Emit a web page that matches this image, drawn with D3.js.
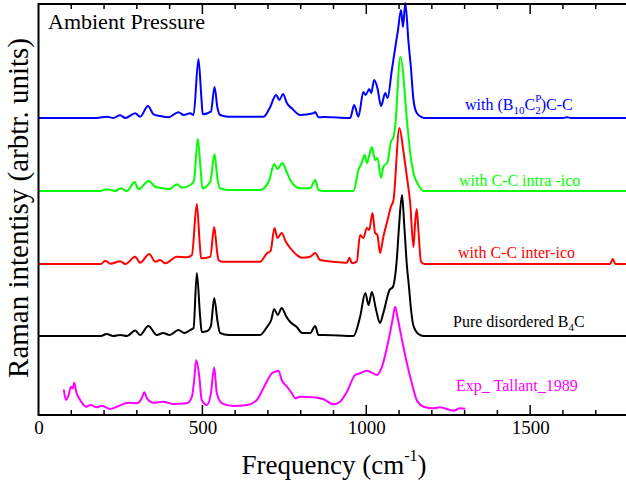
<!DOCTYPE html>
<html><head><meta charset="utf-8">
<script src="https://cdn.jsdelivr.net/npm/d3@7"></script>
<style>
html,body{margin:0;padding:0;background:#fff;}
svg{display:block;}
svg text{font-family:"Liberation Serif","DejaVu Serif","Times New Roman",Times,serif;}
</style></head>
<body><svg id="chart" width="626" height="485"></svg>
<script>
// ---------- data (frequency in cm^-1, intensity in arbitrary units above each trace's baseline) ----------
const blueFreq = [0,178,209,228,249,265,295,310,334,351,371,396,427,443,463,473,488,497,501,526,537,546,554,580,687,705,725,735,746,758,773,798,839,844,854,870,951,963,976,991,998,1009,1015,1024,1034,1045,1058,1065,1078,1091,1096,1106,1112,1119,1129,1136,1144,1154,1170,1180,1600,1612,1625,1800];
const blueInt  = [0,0,1.3,0,2.7,0,4.7,1.3,12,3.7,2,0.7,5.7,3,4.7,3,59,20,3.7,6.3,31,10,3,1.3,1.3,9.7,23,18,24,14.7,9.7,3,4.7,6,0.7,1,0,13,1.3,26,23,29,25,38,30,12,25,20,48,76,86,108,91,115,75,51,18,5,0.7,0,0,0.7,0,0];

const greenFreq = [0,188,209,234,251,270,293,305,336,356,381,400,422,437,463,474,486,495,500,524,537,546,554,580,676,703,719,729,744,756,768,798,829,844,854,870,961,976,986,995,1002,1007,1017,1027,1034,1045,1052,1065,1075,1083,1088,1104,1126,1134,1144,1159,1175,1800];
const greenInt  = [0,0,1.7,0,2.7,0,9,1.7,10,4.3,2.7,2,6.7,3.3,6,10,52,20,2.7,9.3,37,12,2.7,1,1,10,27,22,28,20,11,2.7,2.7,11,1,0,0,21,28,36,28,33,44,31,33,13,24,29,49,54,64,134,64,38,18,6,0,0];

const redFreq = [0,190,204,220,249,265,295,310,338,356,371,387,422,453,468,483,492,496,524,536,545,549,560,676,697,708,720,729,742,755,768,788,803,829,844,859,900,941,949,956,971,981,991,1002,1009,1019,1027,1034,1042,1052,1065,1075,1083,1101,1114,1124,1134,1144,1149,1154,1159,1167,1177,1744,1752,1760,1800];
const redInt  = [0,0,3.3,0.3,2.7,0,7.3,1.3,10,2.3,4,0.7,7.3,6.7,9,60,20,5.7,7.3,37,12,4,2.3,2.3,10.7,13,36,26,31,22,16,9,6.3,7.3,11,4,2.3,1.3,6.3,0.7,2.3,29,26,36,34,51,31,29,11,27,44,57,64,136,111,87,61,17,41,55,34,2.3,0,0,5,0,0];

const blackFreq = [0,190,208,228,249,270,295,310,335,361,380,400,427,445,463,473,483,493,498,515,526,536,546,554,580,676,697,710,719,730,742,755,768,788,804,829,844,854,870,961,981,997,1007,1017,1030,1042,1052,1071,1081,1093,1100,1109,1116,1124,1130,1137,1144,1159,1175,1800];
const blackInt  = [0,0,2,0,1,0,5.5,1,10,1,3,1,6,3,6,8,63,20,4,5,10,38,15,3,1,1,9,16,27,21,28,20,14,9,3,3,10,1,1,0,19,43,31,44,26,13,23,46,49,76,110,141,110,70,50,25,10,2,0,0];

const expFreq = [77,84,92,99,105,109,115,127,146,158,178,193,219,239,275,300,315,323,331,351,381,412,453,468,475,481,490,498,514,526,536,544,560,595,636,666,686,702,712,722,732,742,758,773,783,798,839,870,900,920,941,966,981,1002,1017,1032,1048,1068,1081,1088,1095,1109,1124,1139,1154,1175,1205,1225,1266,1286,1302];
const expInt  = [25.7,15,20,28.3,26.7,32.3,23.3,15,8.3,10,7.7,9.3,6,8.3,12.3,11.7,16.7,22.7,16.7,12.3,13.3,11,11.7,18.3,35,55,40,15,10,21.7,47.7,21.7,11.7,9,10,15,26.7,36.7,41.7,43.3,44.3,35,28.3,21.7,16.7,18.3,17.7,15.7,10.7,13.3,23.3,40,41.7,44.3,42.3,40,48.3,75,96.7,108.3,98.3,75,51.7,31.7,15,8.3,6.7,7.7,4.3,6.7,6.3];

const seriesNames  = ["with (B10CP2)C-C","with C-C intra -ico","with C-C inter-ico","Pure disordered B4C","Exp_ Tallant_1989"];
const seriesOffset = [297, 224, 151, 79, 0];
const xTickValues  = [0, 500, 1000, 1500];
const xDomain = [0, 1800];
const yDomain = [0, 411];

// ---------- layout ----------
const svg = d3.select("#chart");
const mLeft = 38.5, mRight = 628.5, mTop = 4, mBottom = 415;
const x = d3.scaleLinear().domain(xDomain).range([mLeft, mRight]);
const y = d3.scaleLinear().domain(yDomain).range([mBottom, mTop]);

const series = [
  {f: blueFreq,  v: blueInt,  color: "#0000ff"},
  {f: greenFreq, v: greenInt, color: "#00ff00"},
  {f: redFreq,   v: redInt,   color: "#ff0000"},
  {f: blackFreq, v: blackInt, color: "#000000"},
  {f: expFreq,   v: expInt,   color: "#ff00ff"}
];

const line = d3.line().x(d => x(d[0])).y(d => y(d[1])).curve(d3.curveMonotoneX);
series.forEach((s, i) => {
  const pts = s.f.map((f, j) => [f, s.v[j] + seriesOffset[i]]);
  svg.append("path").datum(pts)
    .attr("d", line).attr("fill", "none")
    .attr("stroke", s.color).attr("stroke-width", 2)
    .attr("stroke-linejoin", "round");
});

// ---------- axes ----------
const minorTicks = d3.range(0, 1801, 100);
const bottomAxis = d3.axisBottom(x).tickValues(xTickValues).tickSize(0).tickPadding(0).tickFormat(d3.format("d"));
const gB = svg.append("g").attr("transform", `translate(0,${mBottom})`).call(bottomAxis);
gB.select(".domain").remove();
gB.attr("font-family", null).attr("font-size", null);
gB.selectAll("text").attr("font-size", 19).attr("fill", "#000").attr("dy", null).attr("y", 19);

// tick marks (inward) bottom & top
const tickG = svg.append("g").attr("stroke", "#000").attr("stroke-width", 1.5);
minorTicks.forEach(t => {
  const len = (t % 500 === 0) ? 10 : 5;
  if (t === 0) return;
  tickG.append("line").attr("x1", x(t)).attr("x2", x(t)).attr("y1", mBottom).attr("y2", mBottom - len);
  tickG.append("line").attr("x1", x(t)).attr("x2", x(t)).attr("y1", mTop).attr("y2", mTop + len);
});

// frame
svg.append("path")
  .attr("d", `M${mRight},${mTop}H${mLeft}V${mBottom}H${mRight}`)
  .attr("fill", "none").attr("stroke", "#000").attr("stroke-width", 2);

// ---------- titles ----------
svg.append("text").attr("x", 48).attr("y", 29).attr("font-size", 22)
  .text("Ambient Pressure");

const xt = svg.append("text").attr("x", 334).attr("y", 474).attr("text-anchor", "middle")
  .attr("font-size", 27);
xt.append("tspan").text("Frequency (cm");
xt.append("tspan").attr("font-size", 16).attr("dy", -13).text("-1");
xt.append("tspan").attr("dy", 13).text(")");

svg.append("text").attr("transform", "translate(28,208) rotate(-90)").attr("text-anchor", "middle")
  .attr("font-size", 29).text("Raman intentisy (arbtr. units)");

// ---------- series labels ----------
const lab = (xx, yy, color) => svg.append("text").attr("x", xx).attr("y", yy)
  .attr("font-size", 16).attr("fill", color);

const l0 = lab(465, 110, "#0000ff");
l0.append("tspan").text("with (B");
l0.append("tspan").attr("font-size", 11).attr("dy", 4).text("10");
l0.append("tspan").attr("dy", -4).text("C");
l0.append("tspan").attr("font-size", 11).attr("dy", -8).text("P");
l0.append("tspan").attr("font-size", 11).attr("dx", -6).attr("dy", 12).text("2");
l0.append("tspan").attr("dy", -4).text(")C-C");

lab(459, 186, "#00ff00").text(seriesNames[1]);
lab(458, 258, "#ff0000").text(seriesNames[2]);
const l3 = lab(453, 327, "#000000");
l3.append("tspan").text("Pure disordered B");
l3.append("tspan").attr("font-size", 11).attr("dy", 4).text("4");
l3.append("tspan").attr("dy", -4).text("C");
lab(456, 391, "#ff00ff").text(seriesNames[4]);
</script></body></html>
